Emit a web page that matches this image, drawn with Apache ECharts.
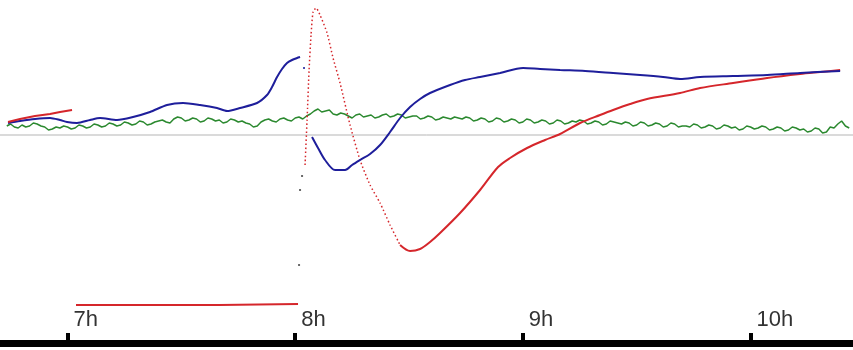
<!DOCTYPE html>
<html>
<head>
<meta charset="utf-8">
<title>Recording 7h–10h</title>
<script src="https://cdn.jsdelivr.net/npm/echarts@6/dist/echarts.min.js"></script>
<style>
  html, body { margin: 0; padding: 0; background: #ffffff; }
  #chart { width: 853px; height: 350px; }
</style>
</head>
<body>
<div id="chart"></div>
<script>
// Time is in minutes after 7h; signal values are in trace units (0 = reference line).

const hourTicks = [0, 60, 120, 180];
const hourLabels = ['7h', '8h', '9h', '10h'];

// Red trace, first stretch before the 8h event
const redEarlyTime = [-15.68, -12.52, -8.57, -4.61, -1.98, 1.19];
const redEarlyValue = [13, 16, 19, 21, 23, 25];

// Red trace, fast swing just after 8h (sparse samples)
const redFastTime = [62.6, 63.13, 63.66, 64.18, 64.71, 65.5, 66.55, 68.4, 69.98, 71.82, 74.46, 77.09, 79.73, 82.37, 85.0, 87.64];
const redFastValue = [-30, 15, 65, 100, 123, 127, 120, 102, 77, 52, 10, -25, -50, -68, -90, -110];

// Red trace, slow recovery
const redSlowTime = [87.64, 90.27, 92.91, 95.54, 98.18, 103.45, 108.72, 113.47, 116.63, 121.11, 125.85, 129.81, 135.08, 140.35, 143.78, 148.26, 152.74, 161.44, 166.71, 175.41, 184.37, 193.07, 198.34, 203.61];
const redSlowValue = [-110, -116, -114, -107, -98, -78, -55, -32, -23, -13, -5, 1, 12, 20, 25, 31, 36, 42, 47, 52, 57, 61, 63, 65];

// Red calibration bar under the 7h–8h span
const redBarTime = [2.24, 20, 40, 60.75];
const redBarValue = [-170, -170, -170, -169];

// Blue trace before and after the 8h event
const blueEarlyTime = [-15.68, -12.52, -8.57, -4.61, -1.98, -0.13, 2.5, 5.93, 8.57, 13.05, 17.26, 21.74, 26.22, 30.44, 34.92, 39.4, 42.04, 45.47, 49.95, 52.58, 53.9, 55.22, 56.53, 57.85, 59.17, 60.49, 61.28];
const blueEarlyValue = [12, 14, 16, 17, 15, 13, 12, 15, 17, 15, 18, 23, 30, 32, 30, 27, 24, 27, 32, 40, 48, 58, 66, 72, 75, 77, 78];
const blueLateTime = [64.44, 66.02, 67.87, 70.51, 73.14, 74.99, 77.09, 79.73, 82.37, 85.0, 87.64, 90.27, 92.91, 95.54, 100.81, 104.77, 108.72, 114.0, 120.06, 124.54, 129.81, 136.4, 143.78, 150.89, 156.95, 161.44, 166.71, 175.41, 184.37, 193.07, 203.61];
const blueLateValue = [-2, -13, -25, -35, -35, -30, -25, -19, -10, 3, 17, 28, 36, 42, 50, 55, 58, 62, 67, 66, 65, 64, 62, 60, 58, 56, 58, 59, 60, 62, 64];

// Green trace, sampled every minute from -16 min
const greenStart = -16;
const greenStep = 1;
const greenValue = [
  9, 11, 8, 7, 10, 8, 9, 12, 11, 9, 8, 5, 6, 8, 7, 9,
  8, 6, 7, 10, 9, 7, 8, 11, 10, 8, 9, 12, 11, 9, 10, 13,
  12, 10, 11, 14, 13, 10, 11, 13, 14, 15, 13, 12, 16, 18, 17, 14,
  15, 17, 16, 13, 14, 17, 16, 14, 15, 12, 13, 16, 15, 13, 14, 12,
  11, 8, 9, 13, 15, 16, 14, 13, 16, 17, 15, 14, 17, 18, 16, 19,
  21, 24, 26, 23, 24, 25, 21, 20, 22, 21, 19, 17, 20, 21, 18, 19,
  20, 17, 18, 20, 21, 18, 19, 21, 20, 17, 18, 19, 19, 16, 17, 19,
  18, 15, 16, 18, 17, 16, 18, 17, 16, 18, 17, 14, 15, 17, 16, 13,
  14, 17, 16, 13, 14, 16, 15, 12, 13, 16, 15, 12, 13, 15, 14, 11,
  12, 15, 14, 11, 12, 14, 13, 15, 14, 11, 12, 14, 13, 10, 11, 14,
  13, 12, 11, 13, 12, 9, 10, 13, 12, 9, 10, 12, 11, 8, 9, 12,
  11, 8, 9, 9, 8, 11, 10, 7, 8, 10, 9, 6, 7, 10, 9, 7,
  8, 5, 6, 9, 8, 6, 7, 9, 8, 5, 6, 8, 7, 4, 5, 8,
  7, 5, 6, 3, 4, 7, 6, 2, 3, 8, 7, 11, 14, 9, 7
];

// Stray samples recorded during the 8h transient
const strayTime = [61.02, 61.28, 61.81];
const strayValue = [-130, -55, -41];
const blueStrayTime = [62.33];
const blueStrayValue = [67];

const zip = (t, v) => t.map((x, i) => [x, v[i]]);
const greenData = greenValue.map((v, i) => [greenStart + i * greenStep, v]);

const RED = '#d5262b';
const BLUE = '#1e1e9b';
const GREEN = '#2b892f';

function trace(name, data, color, width, type, smooth) {
  return {
    name: name,
    type: 'line',
    data: data,
    symbol: 'none',
    silent: true,
    smooth: smooth || false,
    lineStyle: { color: color, width: width, type: type || 'solid' }
  };
}

const chart = echarts.init(document.getElementById('chart'), null, { renderer: 'canvas' });

chart.setOption({
  backgroundColor: '#ffffff',
  animation: false,
  grid: { left: 0, right: 0, top: 0, bottom: 7, containLabel: false },
  xAxis: {
    type: 'value',
    min: -17.79,
    max: 207.0,
    axisLine: { show: true, onZero: false, lineStyle: { color: '#000000', width: 7 } },
    axisTick: {
      show: true,
      customValues: hourTicks,
      inside: true,
      length: 10,
      lineStyle: { color: '#000000', width: 4 }
    },
    axisLabel: {
      show: true,
      customValues: hourTicks,
      inside: true,
      margin: 12,
      align: 'left',
      verticalAlign: 'bottom',
      padding: [0, 0, 0, 6],
      color: '#333333',
      fontFamily: 'Liberation Sans',
      fontSize: 22,
      lineHeight: 22,
      formatter: function (v) {
        const i = hourTicks.indexOf(Math.round(v));
        return i >= 0 ? hourLabels[i] : '';
      }
    },
    splitLine: { show: false }
  },
  yAxis: {
    type: 'value',
    min: -208,
    max: 135,
    show: false
  },
  series: [
    trace('reference', [[-17.79, 0], [207.0, 0]], '#b5b5b5', 1),
    trace('green', greenData, GREEN, 1.5),
    trace('blue-early', zip(blueEarlyTime, blueEarlyValue), BLUE, 2, 'solid', 0.25),
    trace('red-early', zip(redEarlyTime, redEarlyValue), RED, 2),
    trace('red-fast', zip(redFastTime, redFastValue), RED, 1.5, [1.5, 2.5], 0.2),
    trace('red-slow', zip(redSlowTime, redSlowValue), RED, 2, 'solid', 0.3),
    trace('blue-late', zip(blueLateTime, blueLateValue), BLUE, 2, 'solid', 0.3),
    trace('red-bar', zip(redBarTime, redBarValue), RED, 2),
    {
      name: 'stray',
      type: 'scatter',
      silent: true,
      symbol: 'rect',
      symbolSize: 2,
      itemStyle: { color: '#444444' },
      data: zip(strayTime, strayValue)
    },
    {
      name: 'stray-blue',
      type: 'scatter',
      silent: true,
      symbol: 'rect',
      symbolSize: 2,
      itemStyle: { color: BLUE },
      data: zip(blueStrayTime, blueStrayValue)
    }
  ]
});
</script>
</body>
</html>
